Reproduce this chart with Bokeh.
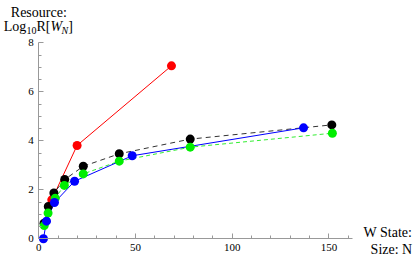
from bokeh.plotting import figure
from bokeh.models import FixedTicker, Label
from bokeh.embed import file_html
from bokeh.resources import INLINE

# ---- data ----
n_red = [6.7, 19.8, 68.6]
r_red = [1.59, 3.81, 7.06]

n_black = [2.7, 4.9, 7.8, 13.4, 23.0, 41.6, 78.3, 151.5]
r_black = [0.64, 1.32, 1.87, 2.42, 2.96, 3.47, 4.07, 4.65]

n_green = [2.8, 4.8, 8.5, 13.2, 23.0, 41.6, 78.3, 151.8]
r_green = [0.54, 1.05, 1.66, 2.18, 2.65, 3.17, 3.74, 4.31]

n_blue = [2.4, 4.0, 8.1, 18.5, 48.3, 136.9]
r_blue = [0.0, 0.72, 1.48, 2.35, 3.39, 4.53]

x_major = [0, 50, 100, 150]
x_minor = [10, 20, 30, 40, 60, 70, 80, 90, 110, 120, 130, 140, 160]
y_major = [0, 2, 4, 6, 8]
y_minor = [0.5, 1, 1.5, 2.5, 3, 3.5, 4.5, 5, 5.5, 6.5, 7, 7.5]
x_axis_extent = (0, 162)
y_axis_extent = (0, 8)

SERIF = "Liberation Serif"

p = figure(width=415, height=257, x_range=(-19.80, 194.78), y_range=(-0.763, 9.727),
           min_border=0, output_backend="svg", toolbar_location=None)
p.outline_line_color = None
p.xgrid.visible = False
p.ygrid.visible = False
p.background_fill_color = "white"

axcol = "#999999"
for ax in (p.xaxis, p.yaxis):
    ax.fixed_location = 0
    ax.axis_line_color = axcol
    ax.major_tick_line_color = axcol
    ax.minor_tick_line_color = axcol
    ax.major_tick_in = 5
    ax.major_tick_out = 0
    ax.minor_tick_in = 3
    ax.minor_tick_out = 0
    ax.major_label_text_font = SERIF
    ax.major_label_text_font_size = "11px"
    ax.major_label_text_color = "black"

p.xaxis.bounds = x_axis_extent
p.yaxis.bounds = y_axis_extent
p.xaxis.ticker = FixedTicker(ticks=x_major, minor_ticks=x_minor)
p.yaxis.ticker = FixedTicker(ticks=y_major, minor_ticks=y_minor)
p.xaxis.major_label_standoff = 5
p.yaxis.major_label_standoff = 5

# ---- lines ----
p.line(n_red, r_red, line_color="#ff0000", line_width=1)
p.line(n_black, r_black, line_color="#333333", line_width=1, line_dash="5 4")
p.line(n_green, r_green, line_color="#33ee33", line_width=1, line_dash="4 3")
p.line(n_blue, r_blue, line_color="#0000ff", line_width=1)

# ---- points ----
p.scatter(n_red, r_red, size=9, fill_color="#ff0000", line_color=None)
p.scatter(n_black, r_black, size=9, fill_color="#000000", line_color=None)
p.scatter(n_green, r_green, size=9, fill_color="#00ee00", line_color=None)
p.scatter(n_blue, r_blue, size=9, fill_color="#0000ff", line_color=None)

# ---- axis titles ----
def lab(text, x, y, dx, dy, size="14px", style="normal", align="left"):
    p.add_layout(Label(x=x, y=y, x_offset=dx, y_offset=dy, text=text,
                       text_font=SERIF, text_font_size=size,
                       text_font_style=style, text_align=align,
                       text_baseline="alphabetic", text_color="black"))

lab("Resource:", 0, 8, 0, 30.5, align="center")
lab("Log", 0, 8, -35, 16.3)
lab("10", 0, 8, -12.4, 12.8, size="10px")
lab("R[", 0, 8, -2.4, 16.3)
lab("W", 0, 8, 11.6, 16.3, style="italic")
lab("N", 0, 8, 22.8, 12.8, size="10px", style="italic")
lab("]", 0, 8, 29.5, 16.3)

lab("W State:", 0, 0, 373.4, 6.5, align="right")
lab("Size: N", 0, 0, 373.4, -10.8, align="right")

open("out.html", "w").write(file_html(p, INLINE))
